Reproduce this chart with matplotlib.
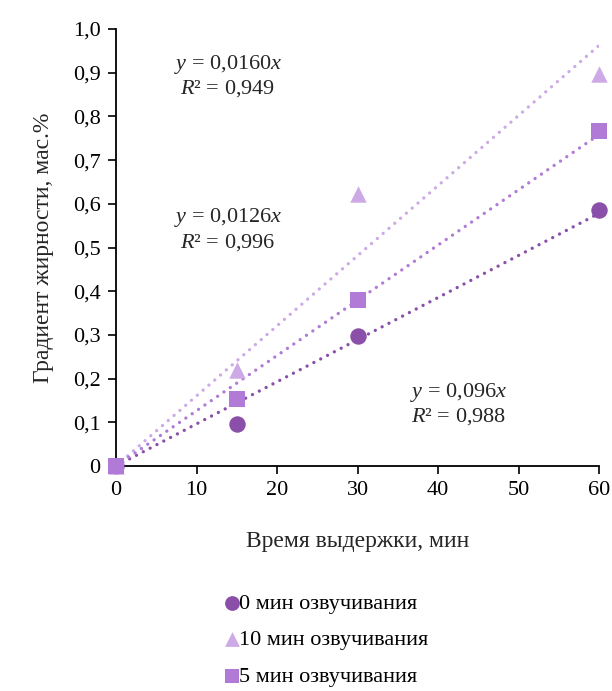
import numpy as np
import matplotlib
matplotlib.use('Agg')
import matplotlib.pyplot as plt
from matplotlib.ticker import FuncFormatter

plt.rcParams['font.family'] = ['Liberation Serif', 'DejaVu Serif']
plt.rcParams['mathtext.fontset'] = 'custom'
plt.rcParams['mathtext.rm'] = 'Liberation Serif'
plt.rcParams['mathtext.it'] = 'Liberation Serif:italic'

# data
x = [0, 15, 30, 60]
y_0min = [0, 0.097, 0.297, 0.586]
y_10min = [0, 0.22, 0.622, 0.897]
y_5min = [0, 0.153, 0.38, 0.767]
labels = ['0 мин озвучивания', '10 мин озвучивания', '5 мин озвучивания']
eq_texts = ['$y$ = 0,096$x$\n$R$² = 0,988',
            '$y$ = 0,0160$x$\n$R$² = 0,949',
            '$y$ = 0,0126$x$\n$R$² = 0,996']

colors = ['#8a4fa8', '#cdaae6', '#b07ad6']
markers = ['o', '^', 's']
series = [y_0min, y_10min, y_5min]
txt_pos = [(42.6, 0.141), (13.9, 0.892), (13.9, 0.541)]

fs = 16

fig = plt.figure(figsize=(6.12, 6.91), dpi=100)
ax = fig.add_axes([116/612, 1 - 466/691, 483/612, 437/691])

xs = np.array(x, dtype=float)
xx = np.array([0, 60])
# trend lines through origin (least squares)
for ys, c in zip(series, colors):
    ys = np.array(ys)
    k = np.sum(xs * ys) / np.sum(xs ** 2)
    ax.plot(xx, k * xx, color=c, lw=2.4, ls=(0, (0.01, 2.3)),
            dash_capstyle='round', zorder=2)

handles = []
for ys, c, m, lab in zip(series, colors, markers, labels):
    h = ax.scatter(x, ys, s=140, marker=m, color=c, zorder=3,
                   clip_on=False, label=lab, linewidths=0)
    handles.append(h)

for t, p in zip(eq_texts, txt_pos):
    ax.text(p[0], p[1], t, ha='center', va='center', fontsize=fs,
            color='#262626', linespacing=1.15)

ax.set_xlim(0, 60)
ax.set_ylim(0, 1.0)
ax.set_xticks(np.arange(0, 61, 10))
ax.set_yticks(np.arange(0, 1.01, 0.1))
ax.yaxis.set_major_formatter(FuncFormatter(
    lambda v, p: '0' if abs(v) < 1e-9 else ('%.1f' % v).replace('.', ',')))
ax.tick_params(direction='out', length=6, width=1.2, labelsize=fs,
               colors='black', pad=5)
for s in ['top', 'right']:
    ax.spines[s].set_visible(False)
for s in ['left', 'bottom']:
    ax.spines[s].set_linewidth(1.3)

ax.set_xlabel('Время выдержки, мин', fontsize=fs + 1, labelpad=22, color='#262626')
ax.set_ylabel('Градиент жирности, мас.%', fontsize=fs + 1, labelpad=14, color='#262626')

fig.legend(handles=handles, loc='upper left', bbox_to_anchor=(208/612, 1 - 582/691),
           frameon=False, fontsize=fs, handletextpad=-0.3, labelspacing=0.72,
           handlelength=1.2, markerscale=0.9, borderpad=0)

fig.savefig('out.png', dpi=100)
